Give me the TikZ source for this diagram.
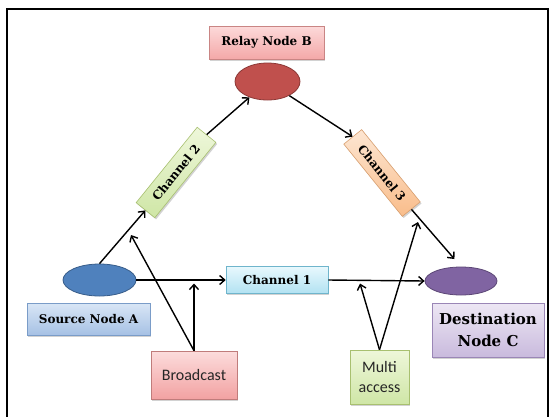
\documentclass[tikz,border=0pt]{standalone}
\usepackage{fontspec}
\setmainfont{DejaVu Serif}
\newfontfamily\calfont{Carlito}
\usetikzlibrary{shapes.geometric,shadows,arrows.meta,calc}
\definecolor{relayT}{HTML}{FCDADA}
\definecolor{relayB}{HTML}{F4A8A8}
\definecolor{relayD}{HTML}{C98584}
\definecolor{redE}{HTML}{C0504D}
\definecolor{redED}{HTML}{8C3836}
\definecolor{blueE}{HTML}{4F81BD}
\definecolor{blueED}{HTML}{385D8A}
\definecolor{purE}{HTML}{8064A2}
\definecolor{purED}{HTML}{5C4776}
\definecolor{grT}{HTML}{EEF7DA}
\definecolor{grB}{HTML}{CFE6A6}
\definecolor{grD}{HTML}{A8C070}
\definecolor{orT}{HTML}{FDE6D2}
\definecolor{orB}{HTML}{F9BD8B}
\definecolor{orD}{HTML}{D9A070}
\definecolor{cyT}{HTML}{E8F8FD}
\definecolor{cyB}{HTML}{B2E2F2}
\definecolor{cyD}{HTML}{6FB5CC}
\definecolor{sbT}{HTML}{D9E6F6}
\definecolor{sbB}{HTML}{A6C1E4}
\definecolor{sbD}{HTML}{7A9CC8}
\definecolor{lvT}{HTML}{EDE7F4}
\definecolor{lvB}{HTML}{C9BADD}
\definecolor{lvD}{HTML}{9A86B6}
\definecolor{pkT}{HTML}{FCDCDC}
\definecolor{pkB}{HTML}{F2A2A2}
\definecolor{pkD}{HTML}{C07C7B}
\definecolor{txtgray}{HTML}{262626}
\begin{document}
\begin{tikzpicture}[x=1pt,y=-1pt,
  lbl/.style={font=\bfseries\fontsize{12}{14}\selectfont, text=black},
  callbl/.style={font=\calfont\fontsize{16}{19.5}\selectfont, text=txtgray, align=center},
  box/.style={draw, line width=0.6pt, inner sep=0pt,
    drop shadow={shadow xshift=1.3pt, shadow yshift=-1.6pt, opacity=0.35}},
  ell/.style={ellipse, draw, line width=0.8pt, inner sep=0pt},
  arr/.style={line width=1.4pt, draw=black, -{Straight Barb[length=5pt,width=9pt]}},
  pline/.style={line width=1.4pt, draw=black}
]
\clip (0,0) rectangle (552,416);
\fill[white] (0,0) rectangle (552,416);
\draw[line width=2pt] (7,420) -- (7,9) -- (548,9) -- (548,420);

% nodes
\node[box, lbl, draw=relayD, top color=relayT, bottom color=relayB,
  minimum width=115pt, minimum height=33pt] (relay) at (266.5,42.5) {Relay Node B};
\node[ell, draw=redED, fill=redE, minimum width=65pt, minimum height=37pt] (B) at (267.5,81.5) {};

\node[box, lbl, draw=grD, top color=grT, bottom color=grB, rotate=51,
  minimum width=97pt, minimum height=24pt] (ch2) at (176,172.5) {Channel 2};
\node[box, lbl, draw=orD, top color=orT, bottom color=orB, rotate=-51,
  minimum width=93pt, minimum height=23pt] (ch3) at (382,173) {Channel 3};

\node[ell, draw=blueED, fill=blueE, minimum width=73pt, minimum height=32pt] (A) at (99.5,280) {};
\node[box, lbl, draw=cyD, top color=cyT, bottom color=cyB,
  minimum width=102pt, minimum height=27pt] (ch1) at (277,280) {Channel 1};
\node[ell, draw=purED, fill=purE, minimum width=72pt, minimum height=28pt] (C) at (461,281) {};

\node[box, lbl, draw=sbD, top color=sbT, bottom color=sbB,
  minimum width=123pt, minimum height=32pt] (srcA) at (88.5,319) {Source Node A};
\node[box, draw=lvD, top color=lvT, bottom color=lvB, align=center,
  font=\bfseries\fontsize{15}{22}\selectfont,
  minimum width=112pt, minimum height=54pt] (dstC) at (488,330) {Destination\\Node C};

\node[box, callbl, draw=pkD, top color=pkT, bottom color=pkB,
  minimum width=86pt, minimum height=48pt] (bc) at (194,375) {Broadcast};
\node[box, callbl, draw=grD, top color=grT, bottom color=grB,
  minimum width=59pt, minimum height=54pt] (ma) at (379.5,377) {Multi\\access};

% free ends of the channel-access lines
\coordinate (bt1) at (194,283.5);
\coordinate (bt2) at (131,235);
\coordinate (mt1) at (360,283.5);
\coordinate (mt2) at (418,222);

% connectors
\draw[arr] (A.north) -- (ch2.west);
\draw[arr] (ch2.east) -- (B);
\draw[arr] (B) -- (ch3.west);
\draw[arr, shorten >=10pt] (ch3.east) -- (C.north);
\draw[arr] (A.east) -- (ch1.west);
\draw[arr] (ch1.east) -- (C.west);

\draw[arr] (bc.north) -- (bt1);
\draw[arr] (bc.north) -- (bt2);
\draw[arr] (ma.north) -- (mt1);
\draw[arr] (ma.north) -- (mt2);
\end{tikzpicture}
\end{document}
